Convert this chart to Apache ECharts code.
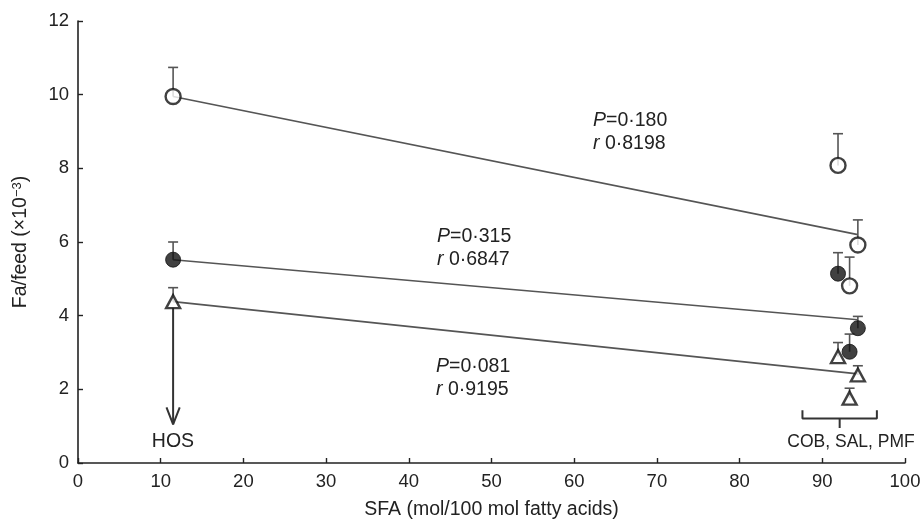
<!DOCTYPE html>
<html>
<head>
<meta charset="utf-8">
<script src="https://cdn.jsdelivr.net/npm/echarts@6/dist/echarts.min.js"></script>
<style>
html,body{margin:0;padding:0;background:#fff;}
#chart{width:921px;height:529px;}
</style>
</head>
<body>
<div id="chart"></div>
<script>
// SFA (mol/100 mol fatty acids) of the diets: HOS, then the three saturated oils
const sfa = [11.5, 91.9, 94.3, 93.3];
// Fa/feed (x10^-3): means and SE for the three groups (open circles, filled circles, triangles)
const openMean = [9.95, 8.08, 5.92, 4.81];
const openSE = [0.79, 0.86, 0.68, 0.78];
const filledMean = [5.52, 5.14, 3.66, 3.02];
const filledSE = [0.48, 0.57, 0.32, 0.48];
const triMean = [4.38, 2.89, 2.39, 1.76];
const triSE = [0.38, 0.38, 0.25, 0.27];
// regression lines (end points)
const fitX = [11.5, 94.3];
const fitOpen = [9.95, 6.2];
const fitFilled = [5.52, 3.89];
const fitTri = [4.38, 2.42];
// axis ticks
const xTicks = [0, 10, 20, 30, 40, 50, 60, 70, 80, 90, 100];
const yTicks = [0, 2, 4, 6, 8, 10, 12];
// annotation texts
const statOpen = ['0·180', '0·8198'];
const statFilled = ['0·315', '0·6847'];
const statTri = ['0·081', '0·9195'];
const groupLabels = ['HOS', 'COB, SAL, PMF'];

const FONT = "'Liberation Sans', Arial, sans-serif";
const INK = '#222';
const chart = echarts.init(document.getElementById('chart'), null, {renderer: 'canvas'});

function pts(xs, ys) { return xs.map((x, i) => [x, ys[i]]); }
function errData(xs, m, se) { return xs.map((x, i) => [x, m[i], m[i] + se[i]]); }

function errSeries(data) {
  return {
    type: 'custom',
    data: data,
    z: 2,
    silent: true,
    encode: {x: 0, y: [1, 2]},
    renderItem: function (params, api) {
      const p0 = api.coord([api.value(0), api.value(1)]);
      const p1 = api.coord([api.value(0), api.value(2)]);
      const hw = 5;
      return {
        type: 'group',
        children: [
          {type: 'line', shape: {x1: p0[0], y1: p0[1], x2: p1[0], y2: p1[1]}, style: {stroke: '#555', lineWidth: 1.6}},
          {type: 'line', shape: {x1: p1[0] - hw, y1: p1[1], x2: p1[0] + hw, y2: p1[1]}, style: {stroke: '#555', lineWidth: 1.6}}
        ]
      };
    }
  };
}

function fitSeries(ys) {
  return {
    type: 'line', data: pts(fitX, ys), symbol: 'none', z: 1, silent: true,
    lineStyle: {color: '#555', width: 1.6}
  };
}

function shapeLine(data) {
  return {type: 'line', data: data, symbol: 'none', silent: true, z: 3,
    lineStyle: {color: '#333', width: 2}};
}

function statText(x, y, vals) {
  return {
    type: 'text', x: x, y: y, silent: true,
    style: {
      text: '{i|P}{n|=' + vals[0] + '}\n{i|r}{n| ' + vals[1] + '}',
      fill: INK, fontFamily: FONT, fontSize: 19.5, lineHeight: 23,
      align: 'left', verticalAlign: 'top',
      rich: {
        i: {fontStyle: 'italic', fontSize: 19.5, fontFamily: FONT, fill: INK, lineHeight: 23},
        n: {fontSize: 19.5, fontFamily: FONT, fill: INK, lineHeight: 23}
      }
    }
  };
}

function centerText(x, y, txt, size) {
  return {type: 'text', x: x, y: y, silent: true,
    style: {text: txt, fontSize: size, fill: INK, fontFamily: FONT, align: 'center', verticalAlign: 'middle'}};
}

const markerBase = {type: 'scatter', symbolSize: 14, z: 5, silent: true};

const option = {
  animation: false,
  grid: {left: 78, right: 16, top: 21, bottom: 66, containLabel: false, outerBoundsMode: 'none'},
  xAxis: {
    type: 'value', min: xTicks[0], max: xTicks[xTicks.length - 1], interval: 10,
    name: 'SFA (mol/100 mol fatty acids)', nameLocation: 'middle', nameGap: 37,
    nameTextStyle: {fontSize: 19.5, color: INK, fontFamily: FONT},
    axisLine: {show: true, lineStyle: {color: INK, width: 1.6}},
    axisTick: {show: true, inside: true, length: 5, lineStyle: {color: INK, width: 1.4}},
    axisLabel: {fontSize: 18.5, color: INK, fontFamily: FONT, margin: 9},
    splitLine: {show: false}
  },
  yAxis: {
    type: 'value', min: yTicks[0], max: yTicks[yTicks.length - 1], interval: 2,
    name: 'Fa/feed (×10{sup|−3})', nameLocation: 'middle', nameGap: 47, nameRotate: 90,
    nameTextStyle: {fontSize: 19.5, color: INK, fontFamily: FONT,
      rich: {sup: {fontSize: 13, color: INK, fontFamily: FONT, verticalAlign: 'top', lineHeight: 20}}},
    axisLine: {show: true, lineStyle: {color: INK, width: 1.6}},
    axisTick: {show: true, inside: true, length: 5, lineStyle: {color: INK, width: 1.4}},
    axisLabel: {fontSize: 18.5, color: INK, fontFamily: FONT, margin: 9},
    splitLine: {show: false}
  },
  series: [
    fitSeries(fitOpen),
    fitSeries(fitFilled),
    fitSeries(fitTri),
    errSeries(errData(sfa, openMean, openSE)),
    errSeries(errData(sfa, filledMean, filledSE)),
    errSeries(errData(sfa, triMean, triSE)),
    Object.assign({}, markerBase, {data: pts(sfa, openMean), symbol: 'circle', symbolSize: 15,
      itemStyle: {color: '#fff', borderColor: '#111', borderWidth: 2.4}}),
    Object.assign({}, markerBase, {data: pts(sfa, filledMean), symbol: 'circle', symbolSize: 15,
      itemStyle: {color: '#111', borderColor: '#111', borderWidth: 1}}),
    Object.assign({}, markerBase, {data: pts(sfa, triMean), symbol: 'triangle', symbolSize: [14, 13],
      itemStyle: {color: '#fff', borderColor: '#111', borderWidth: 2.4}}),
    // HOS arrow: shaft and open chevron head
    shapeLine([[11.5, 4.22], [11.5, 1.05]]),
    shapeLine([[10.7, 1.51], [11.5, 1.05], [12.3, 1.51]]),
    // bracket under the saturated oils
    shapeLine([[87.6, 1.43], [87.6, 1.21], [96.6, 1.21], [96.6, 1.43]]),
    shapeLine([[92.1, 1.21], [92.1, 0.95]])
  ],
  graphic: [
    statText(593, 109, statOpen),
    statText(437, 225, statFilled),
    statText(436, 355, statTri),
    centerText(173, 442, groupLabels[0], 19.5),
    centerText(851, 442, groupLabels[1], 17.5)
  ]
};

chart.setOption(option);
</script>
</body>
</html>
